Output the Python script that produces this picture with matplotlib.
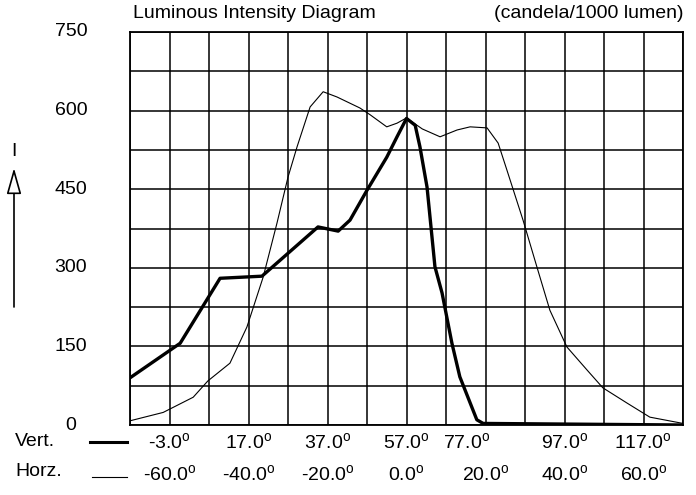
import matplotlib
matplotlib.use("Agg")
import matplotlib.pyplot as plt
import matplotlib.transforms as mtransforms

plt.rcParams['font.family'] = ['Liberation Sans', 'DejaVu Sans']
plt.rcParams['mathtext.fontset'] = 'custom'
plt.rcParams['mathtext.rm'] = 'Liberation Sans'

# vertical plane (thick), angle in degrees
vert_angle = [-13, -0.3, 9.8, 20.4, 34.6, 39.7, 42.7, 47, 52, 54.6, 57,
              59.2, 60.4, 62.2, 64.2, 66, 68.5, 70.5, 74.8, 76.4, 127]
vert_value = [90, 156, 280, 284, 378, 370, 391, 448, 511, 550, 585,
              572, 531, 454, 302, 252, 156, 92, 10, 3, 0]

# horizontal plane (thin)
horz_angle = [-70, -61.6, -54, -50.3, -44.7, -40.4, -36.3, -32.8, -30, -27.7,
              -24.4, -21.1, -17.6, -11.8, -9.2, -5, -2.4, 0, 4, 8.5, 12.8,
              16.1, 20.4, 23.2, 25.4, 29.5, 33, 36.3, 40.6, 45.7, 49.7, 55.8,
              61.6, 70]
horz_value = [8, 24, 53, 84, 118, 187, 282, 385, 473, 531,
              607, 636, 626, 605, 592, 569, 576, 586, 565, 550, 563,
              569, 567, 538, 487, 391, 302, 219, 149, 105, 71, 42,
              15, 3]

vert_ticks = [-3, 17, 37, 57, 77, 97, 117]
horz_ticks = [-60, -40, -20, 0, 20, 40, 60]
y_ticks = [0, 150, 300, 450, 600, 750]
vert_offset = 57  # vert angle = horz angle + 57

W, H = 696, 495
fig = plt.figure(figsize=(W / 100, H / 100), dpi=100)
ax = fig.add_axes([130 / W, 1 - 425 / H, 553 / W, 393 / H])

ax.set_xlim(-70, 70)
ax.set_ylim(0, 750)
for x in range(-70, 71, 10):
    ax.axvline(x, color='black', lw=1.1, zorder=1)
for y in range(0, 751, 75):
    ax.axhline(y, color='black', lw=1.1, zorder=1)
for s in ax.spines.values():
    s.set_linewidth(1.3)
ax.set_xticks([])
ax.set_yticks([])

ax.plot([a - vert_offset for a in vert_angle], vert_value, color='black',
        lw=2.4, solid_joinstyle='round', zorder=3)
ax.plot(horz_angle, horz_value, color='black', lw=0.8, zorder=3)

fs = 14

# y labels
ytrans = mtransforms.blended_transform_factory(fig.transFigure, ax.transData)
for v in y_ticks:
    ax.text(71 / W, v, str(v), transform=ytrans, ha='center', va='center',
            fontsize=fs)

# x label rows
xtrans = mtransforms.blended_transform_factory(ax.transData, fig.transFigure)
deg = r'$^{\rm o}$'
for v in vert_ticks:
    t = xtrans
    if v == 77:
        t = xtrans + mtransforms.ScaledTranslation(-0.19, 0, fig.dpi_scale_trans)
    ax.text(v - vert_offset, 1 - 443 / H, f"{v:.1f}" + deg, transform=t,
            ha='center', va='center', fontsize=fs, clip_on=False)
for h in horz_ticks:
    ax.text(h, 1 - 475 / H, f"{h:.1f}" + deg, transform=xtrans,
            ha='center', va='center', fontsize=fs, clip_on=False)

fig.text(15 / W, 1 - 442 / H, "Vert.", ha='left', va='center', fontsize=fs)
fig.text(15 / W, 1 - 471 / H, "Horz.", ha='left', va='center', fontsize=fs)
fig.add_artist(plt.Line2D([90 / W, 127 / W], [1 - 442 / H] * 2,
                          color='black', lw=2.2))
fig.add_artist(plt.Line2D([92 / W, 127 / W], [1 - 477 / H] * 2,
                          color='black', lw=0.8))

# titles
fig.text(133 / W, 1 - 14 / H, "Luminous Intensity Diagram", ha='left',
         va='center', fontsize=fs)
fig.text(683 / W, 1 - 14 / H, "(candela/1000 lumen)", ha='right',
         va='center', fontsize=fs)

# intensity arrow
fig.text(14 / W, 1 - 152 / H, "I", ha='center', va='center', fontsize=fs)
ax.annotate("", xy=(14 / W, 1 - 168 / H), xytext=(14 / W, 1 - 307 / H),
            xycoords='figure fraction', textcoords='figure fraction',
            arrowprops=dict(arrowstyle='-|>,head_length=1.6,head_width=0.45',
                            lw=1.2, color='black', fc='white',
                            shrinkA=0, shrinkB=0))

fig.savefig("out.png", dpi=100)
